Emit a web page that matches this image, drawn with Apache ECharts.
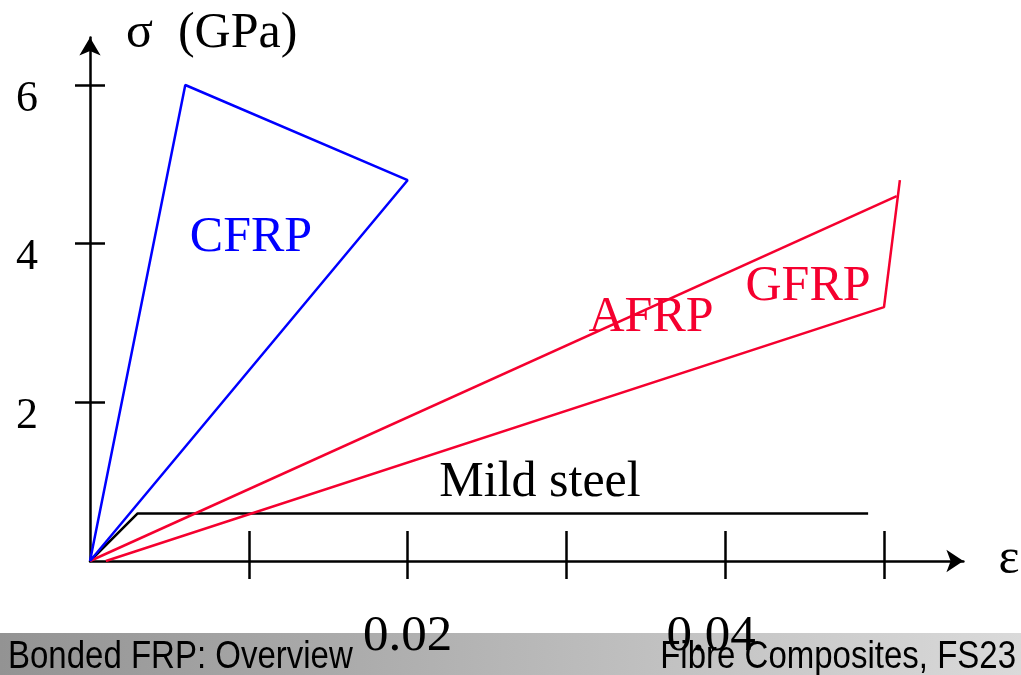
<!DOCTYPE html>
<html>
<head>
<meta charset="utf-8">
<script src="https://cdn.jsdelivr.net/npm/echarts@6/dist/echarts.min.js"></script>
<style>html,body{margin:0;padding:0;background:#fff;}#c{width:1021px;height:675px;}</style>
</head>
<body>
<div id="c"></div>
<script>
// Data (strain ε, stress σ in GPa)
const cfrpStrain = [0, 0.006, 0.02, 0];
const cfrpStress = [0, 6.0, 4.8, 0];
const afrpStrain = [0, 0.0508];
const afrpStress = [0, 4.6];
const gfrpStrain = [0.001, 0.05, 0.051];
const gfrpStress = [0, 3.2, 4.8];
const steelStrain = [0, 0.003, 0.049];
const steelStress = [0, 0.6, 0.6];
const xTicks = [0.01, 0.02, 0.03, 0.04, 0.05];
const xTickLabels = [0.02, 0.04];
const yTicks = [2, 4, 6];

const pair = (xs, ys) => xs.map((x, i) => [x, ys[i]]);
const SERIF = '"Liberation Serif","Times New Roman",serif';
const SANS = '"Liberation Sans",Arial,sans-serif';
const RED = '#f5002f';
const BLUE = '#0000ff';

const chart = echarts.init(document.getElementById('c'), null, {renderer: 'canvas'});
const axisLineStyle = {color: '#000', width: 2.5};
const xBase = {type: 'value', min: 0, max: 0.055, position: 'bottom', offset: 0, splitLine: {show: false}};
const yBase = {type: 'value', min: 0, max: 6.6, position: 'left', offset: 0, splitLine: {show: false}};

chart.setOption({
  animation: false,
  backgroundColor: '#fff',
  grid: {left: 90, right: 57.6, top: 37.4, bottom: 114},
  xAxis: [
    Object.assign({}, xBase, {
      axisLine: {show: true, lineStyle: axisLineStyle, symbol: ['none', 'arrow'], symbolSize: [17, 17]},
      axisTick: {show: true, inside: true, length: 30, lineStyle: axisLineStyle, customValues: xTicks},
      axisLabel: {show: true, customValues: xTickLabels, margin: 50, fontFamily: SERIF, fontSize: 51, color: '#000',
        formatter: v => (Math.abs(v - 0.04) < 1e-9 ? '{s|' + v.toFixed(2) + '}' : v.toFixed(2)),
        rich: {s: {fontFamily: SERIF, fontSize: 51, color: '#000', padding: [0, 28, 0, 0]}}}
    }),
    Object.assign({}, xBase, {
      axisLine: {show: false},
      axisTick: {show: true, inside: false, length: 18, lineStyle: axisLineStyle, customValues: xTicks},
      axisLabel: {show: false}
    })
  ],
  yAxis: [
    Object.assign({}, yBase, {
      axisLine: {show: true, lineStyle: axisLineStyle, symbol: ['none', 'arrow'], symbolSize: [16, 18]},
      axisTick: {show: true, inside: true, length: 15, lineStyle: axisLineStyle, customValues: yTicks},
      axisLabel: {show: true, customValues: yTicks, margin: 52, fontFamily: SERIF, fontSize: 44, color: '#000',
        verticalAlign: 'top', lineHeight: 28}
    }),
    Object.assign({}, yBase, {
      axisLine: {show: false},
      axisTick: {show: true, inside: false, length: 15, lineStyle: axisLineStyle, customValues: yTicks},
      axisLabel: {show: false}
    })
  ],
  series: [
    {name: 'CFRP', type: 'line', data: pair(cfrpStrain, cfrpStress), showSymbol: false, lineStyle: {color: BLUE, width: 2.5}, z: 5},
    {name: 'AFRP', type: 'line', data: pair(afrpStrain, afrpStress), showSymbol: false, lineStyle: {color: RED, width: 2.5}, z: 4},
    {name: 'GFRP', type: 'line', data: pair(gfrpStrain, gfrpStress), showSymbol: false, lineStyle: {color: RED, width: 2.5}, z: 4},
    {name: 'Mild steel', type: 'line', data: pair(steelStrain, steelStress), showSymbol: false, lineStyle: {color: '#000', width: 2.5}, z: 3}
  ],
  graphic: [
    {type: 'rect', z: -10, shape: {x: 0, y: 633, width: 1021, height: 42},
      style: {fill: new echarts.graphic.LinearGradient(0, 0, 1, 0, [
        {offset: 0, color: '#939393'}, {offset: 1, color: '#dadada'}])}},
    {type: 'text', z: -5, x: 8, y: 657, scaleY: 1.16, style: {text: 'Bonded FRP: Overview', font: '33px ' + SANS, fill: '#000', align: 'left', verticalAlign: 'middle'}},
    {type: 'text', z: -5, x: 1016, y: 657, scaleY: 1.16, style: {text: 'Fibre Composites, FS23', font: '33px ' + SANS, fill: '#000', align: 'right', verticalAlign: 'middle'}},
    {type: 'text', x: 126, y: 34, style: {text: 'σ  (GPa)', font: '50px ' + SERIF, fill: '#000', align: 'left', verticalAlign: 'middle'}},
    {type: 'text', x: 1009, y: 560, style: {text: 'ε', font: '50px ' + SERIF, fill: '#000', align: 'center', verticalAlign: 'middle'}},
    {type: 'text', x: 251, y: 238, style: {text: 'CFRP', font: '50px ' + SERIF, fill: BLUE, align: 'center', verticalAlign: 'middle'}},
    {type: 'text', x: 651, y: 318, style: {text: 'AFRP', font: '50px ' + SERIF, fill: RED, align: 'center', verticalAlign: 'middle'}},
    {type: 'text', x: 808, y: 287, style: {text: 'GFRP', font: '50px ' + SERIF, fill: RED, align: 'center', verticalAlign: 'middle'}},
    {type: 'text', x: 540, y: 483, style: {text: 'Mild steel', font: '50px ' + SERIF, fill: '#000', align: 'center', verticalAlign: 'middle'}}
  ]
});
</script>
</body>
</html>
